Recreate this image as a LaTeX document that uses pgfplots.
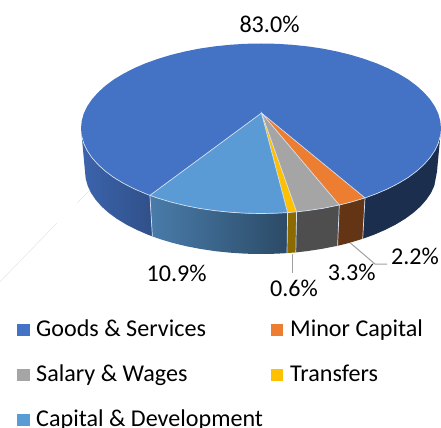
\documentclass[border=0pt]{standalone}
\usepackage{pgfplots}
\pgfplotsset{compat=1.18}
\usepackage{fontspec}
\setmainfont{Carlito}
\definecolor{goods}{HTML}{4472C4}
\definecolor{minorc}{HTML}{ED7D31}
\definecolor{salary}{HTML}{A5A5A5}
\definecolor{transf}{HTML}{FFC000}
\definecolor{capit}{HTML}{5B9BD5}
\definecolor{rim}{HTML}{D5DEEE}
\definecolor{leader}{HTML}{A0A0A0}
\newcommand{\lab}[3]{\node[anchor=base,inner sep=0pt,font=\fontsize{24.2}{25}\selectfont] at (axis cs:#1,#2) {#3};}
\newcommand{\leg}[3]{\node[anchor=base west,inner sep=0pt,font=\fontsize{24.2}{25}\selectfont] at (axis cs:#1,#2) {#3};}
\begin{document}
\begin{tikzpicture}
\begin{axis}[name=ax,at={(0,0)},anchor=south west,scale only axis,width=441bp,height=428bp,
  xmin=0,xmax=441,ymin=0,ymax=428,y dir=reverse,hide axis,clip=true]
% faint background line
\addplot[color=black!10,line width=0.5pt] coordinates {(0,281.7)(56.7,223.3)};
\addplot[color=black!10,line width=0.5pt] coordinates {(77.3,202.7)(90,190)};
% walls
\addplot[draw=none,left color=goods!88!black,right color=goods!70!black] coordinates {
(149.9,195.4)(145.3,193.6)(133.7,188.6)(123.1,183.1)(113.5,177.3)(105.1,171.0)(97.9,164.4)(91.9,157.6)(87.1,150.5)(83.7,143.3)(81.7,135.9)
(85,171.5)(85.7,178.7)(87.7,185.8)(91,192.9)(95.6,199.7)(101.5,206.4)(108.6,212.8)(116.8,218.8)(126.2,224.5)(136.6,229.8)(147.9,234.7)(152.4,236.4)} -- cycle;
\addplot[draw=none,fill=goods!40!black] coordinates {
(365.0,197.9)(376.7,193.6)(388.3,188.6)(398.9,183.1)(408.5,177.3)(416.9,171.0)(424.1,164.4)(430.1,157.6)(434.9,150.5)(438.3,143.3)(440.3,135.9)
(437,171.5)(434.3,185.8)(431,192.9)(426.4,199.7)(420.5,206.4)(413.4,212.8)(405.2,218.8)(395.8,224.5)(385.4,229.8)(374.1,234.7)(362.7,238.8)} -- cycle;
\addplot[draw=none,left color=capit!80!black,right color=capit!48!black] coordinates {
(149.9,195.4)(157.8,198.1)(171,202.1)(184.9,205.5)(199.4,208.4)(214.4,210.6)(229.8,212.2)(245.3,213.2)(261,213.5)(276.7,213.2)(287.6,212.6)
(287,253.1)(276.3,253.7)(261,254)(245.7,253.7)(230.4,252.7)(215.5,251.2)(200.8,249)(186.6,246.3)(173,243)(160,239.1)(152.4,236.4)} -- cycle;
\addplot[draw=none,fill=transf!55!black] coordinates {(287.6,212.6)(296.6,211.8)(295.8,252.4)(287,253.1)} -- cycle;
\addplot[draw=none,fill=salary!47!black] coordinates {(296.6,211.8)(307.6,210.6)(322.6,208.4)(339.3,205.0)(337.6,245.8)(321.2,249)(306.5,251.2)(295.8,252.4)} -- cycle;
\addplot[draw=none,fill=minorc!42!black] coordinates {(339.3,205.0)(351,202.1)(365.0,197.9)(362.7,238.8)(349,243)(337.6,245.8)} -- cycle;
% top: goods
\addplot[draw=none,fill=goods] coordinates {(261.5,113)(365.0,197.9)(376.7,193.6)(388.3,188.6)(398.9,183.1)(408.5,177.3)(416.9,171.0)(424.1,164.4)(430.1,157.6)(434.9,150.5)(438.3,143.3)(440.3,135.9)(441,128.5)(440.3,121.1)(438.3,113.7)(434.9,106.5)(430.1,99.4)(424.1,92.6)(416.9,86)(408.5,79.7)(398.9,73.9)(388.3,68.4)(376.7,63.4)(364.2,58.9)(351,54.9)(337.1,51.5)(322.6,48.6)(307.6,46.4)(292.3,44.8)(276.7,43.8)(261,43.5)(245.3,43.8)(229.8,44.8)(214.4,46.4)(199.4,48.6)(184.9,51.5)(171,54.9)(157.8,58.9)(145.3,63.4)(133.7,68.4)(123.1,73.9)(113.5,79.7)(105.1,86)(97.9,92.6)(91.9,99.4)(87.1,106.5)(83.7,113.7)(81.7,121.1)(81,128.5)(81.7,135.9)(83.7,143.3)(87.1,150.5)(91.9,157.6)(97.9,164.4)(105.1,171.0)(113.5,177.3)(123.1,183.1)(133.7,188.6)(145.3,193.6)(149.9,195.4)} -- cycle;
\addplot[draw=none,fill=minorc] coordinates {(261.5,113)(339.3,205.0)(351,202.1)(365.0,197.9)} -- cycle;
\addplot[draw=none,fill=salary] coordinates {(261.5,113)(296.6,211.8)(307.6,210.6)(322.6,208.4)(339.3,205.0)} -- cycle;
\addplot[draw=none,fill=transf] coordinates {(261.5,113)(287.6,212.6)(296.6,211.8)} -- cycle;
\addplot[draw=none,fill=capit] coordinates {(261.5,113)(149.9,195.4)(157.8,198.1)(171,202.1)(184.9,205.5)(199.4,208.4)(214.4,210.6)(229.8,212.2)(245.3,213.2)(261,213.5)(276.7,213.2)(287.6,212.6)} -- cycle;
% rims and separators
\addplot[color=rim,line width=0.7pt] coordinates {(440.3,135.9)(438.3,143.3)(434.9,150.5)(430.1,157.6)(424.1,164.4)(416.9,171.0)(408.5,177.3)(398.9,183.1)(388.3,188.6)(376.7,193.6)(365.0,197.9)(351,202.1)(339.3,205.0)(322.6,208.4)(307.6,210.6)(296.6,211.8)(287.6,212.6)(276.7,213.2)(261,213.5)(245.3,213.2)(229.8,212.2)(214.4,210.6)(199.4,208.4)(184.9,205.5)(171,202.1)(157.8,198.1)(149.9,195.4)(145.3,193.6)(133.7,188.6)(123.1,183.1)(113.5,177.3)(105.1,171.0)(97.9,164.4)(91.9,157.6)(87.1,150.5)(83.7,143.3)(81.7,135.9)};
\addplot[color=rim,line width=0.7pt] coordinates {(149.9,195.4)(261.5,113)(365.0,197.9)};
\addplot[color=rim,line width=0.7pt] coordinates {(339.3,205.0)(261.5,113)(296.6,211.8)};
\addplot[color=rim,line width=0.7pt] coordinates {(287.6,212.6)(261.5,113)};
\addplot[color=rim,line width=0.7pt] coordinates {(149.9,195.4)(152.4,236.4)};
\addplot[color=rim,line width=0.7pt] coordinates {(287.6,212.6)(287,253.1)};
\addplot[color=rim,line width=0.7pt] coordinates {(296.6,211.8)(295.8,252.4)};
\addplot[color=rim,line width=0.7pt] coordinates {(339.3,205.0)(337.6,245.8)};
\addplot[color=rim,line width=0.7pt] coordinates {(365.0,197.9)(362.7,238.8)};
% leader lines
\addplot[color=leader,line width=1pt] coordinates {(350,242.7)(375,264)(387,264)};
\addplot[color=leader,line width=1pt] coordinates {(292,254)(292,273)};
% legend keys
\addplot[draw=none,fill=goods] coordinates {(17.3,324)(30,324)(30,336)(17.3,336)} -- cycle;
\addplot[draw=none,fill=minorc] coordinates {(270.7,324)(283,324)(283,336)(270.7,336)} -- cycle;
\addplot[draw=none,fill=salary] coordinates {(17.3,369)(30,369)(30,381)(17.3,381)} -- cycle;
\addplot[draw=none,fill=transf] coordinates {(270.7,369)(283,369)(283,381)(270.7,381)} -- cycle;
\addplot[draw=none,fill=capit] coordinates {(17.3,414)(30,414)(30,426)(17.3,426)} -- cycle;
\end{axis}
\begin{axis}[at={(0,0)},anchor=south west,scale only axis,width=441bp,height=428bp,
  xmin=0,xmax=441,ymin=0,ymax=428,y dir=reverse,hide axis,clip=false]
\addplot[draw=none] coordinates {(0,0)(441,428)};
\lab{269.5}{32.3}{83.0\%}
\lab{176.7}{281.7}{10.9\%}
\lab{294}{296.7}{0.6\%}
\lab{351.7}{280.3}{3.3\%}
\lab{415}{264.8}{2.2\%}
\leg{36}{336.7}{Goods \& Services}
\leg{290}{336.7}{Minor Capital}
\leg{36}{381.7}{Salary \& Wages}
\leg{290}{381.7}{Transfers}
\leg{36}{426}{Capital \& Development}
\end{axis}
\pgfresetboundingbox
\path (ax.south west) rectangle (ax.north east);
\end{tikzpicture}
\end{document}
